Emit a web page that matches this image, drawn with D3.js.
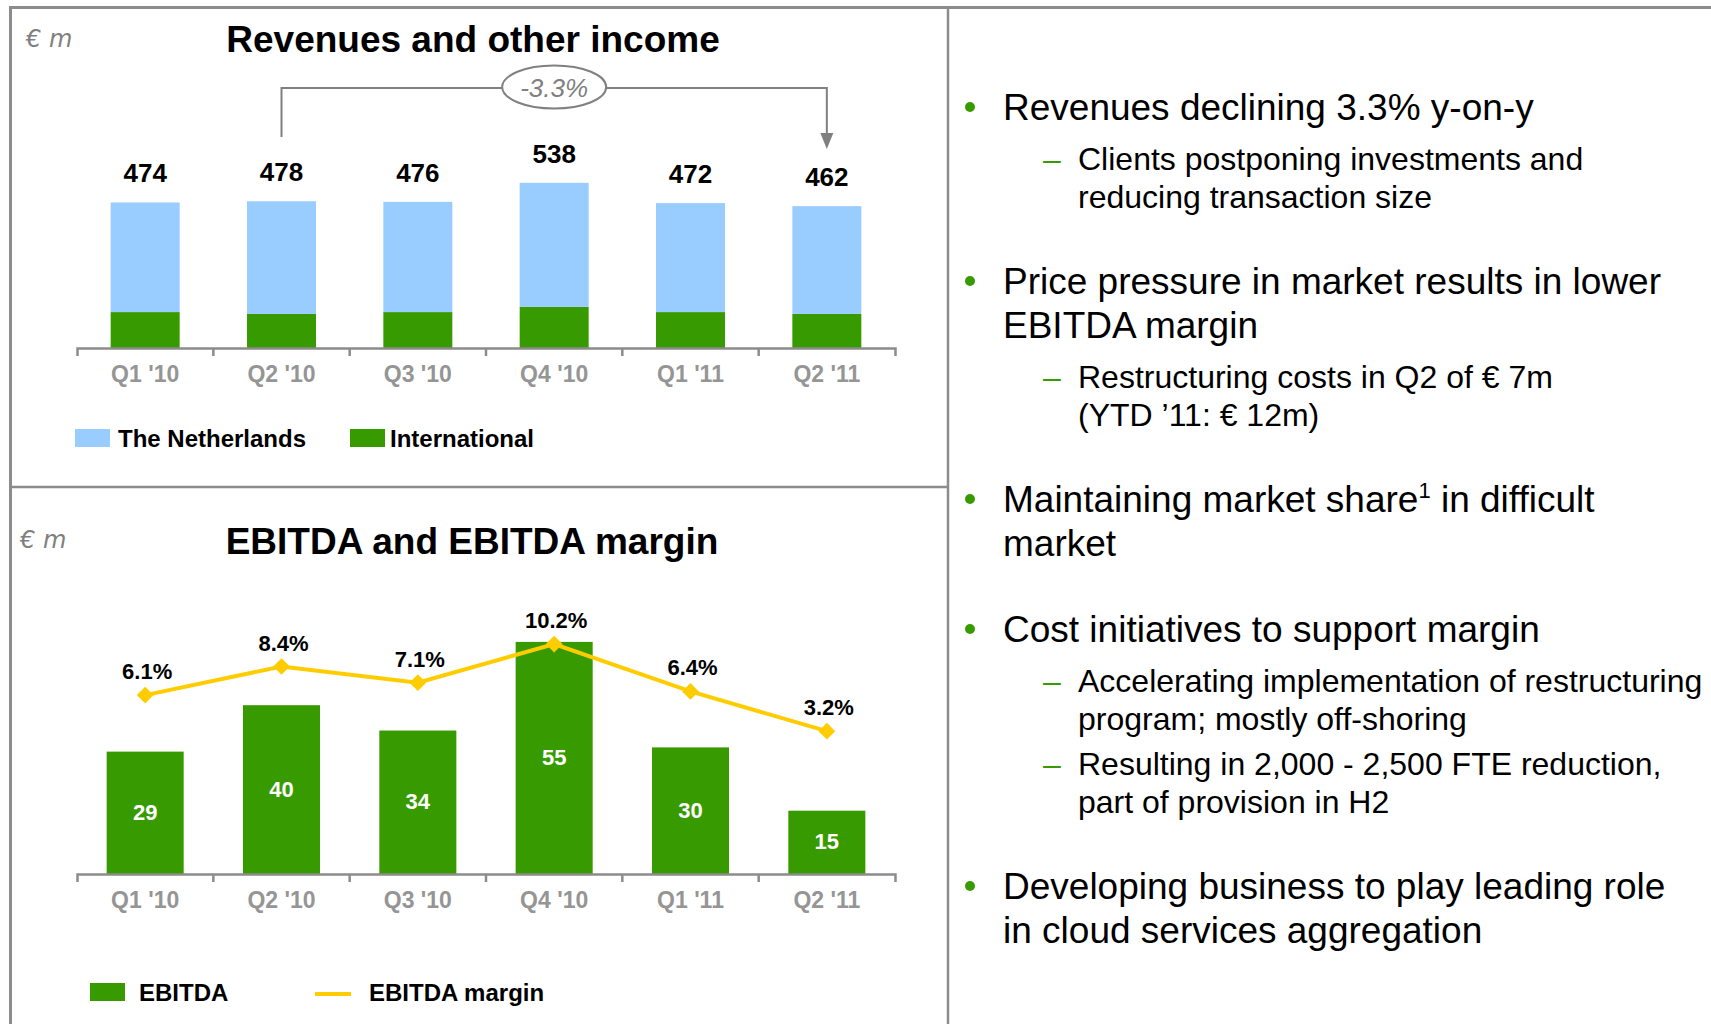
<!DOCTYPE html>
<html>
<head>
<meta charset="utf-8">
<style>
body { margin: 0; background: #ffffff; }
#thevis { display: block; font-family: "Liberation Sans", Arial, sans-serif; }
.frame { stroke: #8c8c8c; fill: none; }
.axis path, .axis line { stroke: #8c8c8c; stroke-width: 2.5px; }
.axis text { fill: #959595; font-weight: bold; font-size: 23px; font-family: "Liberation Sans", Arial, sans-serif; }
.unit { fill: #808080; font-family: "DejaVu Sans", sans-serif; font-style: italic; font-size: 24px; }
.title { font-weight: bold; font-size: 37px; fill: #000; }
.legend text { font-weight: bold; font-size: 24px; fill: #000; }
</style>
</head>
<body>
<svg id="thevis" width="1711" height="1024"></svg>
<script src="https://d3js.org/d3.v7.min.js"></script>
<script>

// chart data
var quarters = ["Q1 '10", "Q2 '10", "Q3 '10", "Q4 '10", "Q1 '11", "Q2 '11"];
var netherlands = [357, 367, 359, 404, 355, 351];
var international = [117, 111, 117, 134, 117, 111];
var ebitda = [29, 40, 34, 55, 30, 15];
var ebitdaMargin = [6.1, 8.4, 7.1, 10.2, 6.4, 3.2];
var revenueChange = "-3.3%";

var seriesKeys = ["international", "netherlands"];
var seriesNames = { netherlands: "The Netherlands", international: "International" };
var green = "#379b00", blue = "#99ccff", yellow = "#ffcc00";

// bullet text on the right
var bullets = [
	{ main: ["Revenues declining 3.3% y-on-y"],
	  subs: [["Clients postponing investments and", "reducing transaction size"]] },
	{ main: ["Price pressure in market results in lower", "EBITDA margin"],
	  subs: [["Restructuring costs in Q2 of \u20ac 7m", "(YTD \u201911: \u20ac 12m)"]] },
	{ main: ["Maintaining market share\u00b9 in difficult", "market"], subs: [] },
	{ main: ["Cost initiatives to support margin"],
	  subs: [["Accelerating implementation of restructuring", "program; mostly off-shoring"],
	         ["Resulting in 2,000 - 2,500 FTE reduction,", "part of provision in H2"]] },
	{ main: ["Developing business to play leading role", "in cloud services aggregation"], subs: [] }
];

var svg = d3.select("#thevis");

// frame lines
svg.append("line").attr("class", "frame").attr("x1", 9).attr("x2", 1711).attr("y1", 7.5).attr("y2", 7.5).attr("stroke-width", 3);
svg.append("line").attr("class", "frame").attr("x1", 10.5).attr("x2", 10.5).attr("y1", 6).attr("y2", 1024).attr("stroke-width", 3);
svg.append("line").attr("class", "frame").attr("x1", 948).attr("x2", 948).attr("y1", 6).attr("y2", 1024).attr("stroke-width", 2.5);
svg.append("line").attr("class", "frame").attr("x1", 10).attr("x2", 948).attr("y1", 487).attr("y2", 487).attr("stroke-width", 2.5);

function drawAxis(x, y0) {
	var ax = svg.append("g")
		.attr("class", "axis")
		.attr("transform", "translate(0," + y0 + ")")
		.call(d3.axisBottom(x).tickSizeInner(0).tickSizeOuter(8).tickPadding(18));
	// ticks sit between the categories
	ax.selectAll(".sep")
		.data(d3.range(1, quarters.length))
		.enter().append("line")
		.attr("class", "sep")
		.attr("x1", function(i) { return x.range()[0] + i * x.step(); })
		.attr("x2", function(i) { return x.range()[0] + i * x.step(); })
		.attr("y1", 0)
		.attr("y2", 8);
}

/* ---------- top: revenues ---------- */

var revBase = 348;
var xRev = d3.scaleBand()
	.domain(quarters)
	.range([77, 895])
	.paddingInner(0.494)
	.paddingOuter(0.247);

var yRev = d3.scaleLinear()
	.domain([0, 600])
	.range([revBase, revBase - 600 * 0.307]);

var revRows = quarters.map(function(q, i) {
	return { quarter: q, netherlands: netherlands[i], international: international[i] };
});

svg.append("text").attr("class", "unit").attr("x", 26).attr("y", 47).text("\u20ac m");
svg.append("text").attr("class", "title").attr("x", 473).attr("y", 52).attr("text-anchor", "middle")
	.text("Revenues and other income");

svg.append("g")
	.selectAll("g")
	.data(d3.stack().keys(seriesKeys)(revRows))
	.enter().append("g")
		.attr("fill", function(d) { return d.key == "netherlands" ? blue : green; })
	.selectAll("rect")
	.data(function(d) { return d; })
	.enter().append("rect")
		.attr("x", function(d) { return xRev(d.data.quarter); })
		.attr("y", function(d) { return yRev(d[1]); })
		.attr("height", function(d) { return yRev(d[0]) - yRev(d[1]); })
		.attr("width", xRev.bandwidth());

svg.append("g")
	.selectAll("text")
	.data(revRows)
	.enter().append("text")
		.attr("x", function(d) { return xRev(d.quarter) + xRev.bandwidth() / 2; })
		.attr("y", function(d) { return yRev(d.netherlands + d.international) - 20; })
		.attr("text-anchor", "middle")
		.attr("font-weight", "bold")
		.attr("font-size", "26px")
		.text(function(d) { return d.netherlands + d.international; });

drawAxis(xRev, revBase);

// year-on-year bracket
var bx1 = xRev(quarters[1]) + xRev.bandwidth() / 2,
	bx2 = xRev(quarters[5]) + xRev.bandwidth() / 2;
svg.append("path")
	.attr("d", "M" + bx1 + ",137V88H" + bx2 + "V136")
	.attr("fill", "none").attr("stroke", "#808080").attr("stroke-width", 2);
svg.append("path")
	.attr("d", "M" + (bx2 - 6.5) + ",133L" + (bx2 + 6.5) + ",133L" + bx2 + ",149Z")
	.attr("fill", "#808080");
svg.append("ellipse")
	.attr("cx", (bx1 + bx2) / 2).attr("cy", 87).attr("rx", 52).attr("ry", 21.5)
	.attr("fill", "#fff").attr("stroke", "#808080").attr("stroke-width", 2);
svg.append("text")
	.attr("x", (bx1 + bx2) / 2).attr("y", 97)
	.attr("text-anchor", "middle").attr("font-style", "italic").attr("font-size", "26px")
	.attr("fill", "#808080")
	.text(revenueChange);

var legTop = svg.append("g").attr("class", "legend");
[["netherlands", 75, 43], ["international", 350, 40]].forEach(function(k) {
	legTop.append("rect").attr("x", k[1]).attr("y", 429).attr("width", 35).attr("height", 18)
		.attr("fill", k[0] == "netherlands" ? blue : green);
	legTop.append("text").attr("x", k[1] + k[2]).attr("y", 447).text(seriesNames[k[0]]);
});

/* ---------- bottom: EBITDA ---------- */

var ebBase = 874;
var xEb = d3.scaleBand()
	.domain(quarters)
	.range([77, 895])
	.paddingInner(0.435)
	.paddingOuter(0.2175);

var yEb = d3.scaleLinear()
	.domain([0, 60])
	.range([ebBase, ebBase - 60 * 4.22]);

var yMargin = d3.scaleLinear()
	.domain([0, 12])
	.range([771, 771 - 12 * 12.44]);

svg.append("text").attr("class", "unit").attr("x", 20).attr("y", 548).text("\u20ac m");
svg.append("text").attr("class", "title").attr("x", 472).attr("y", 554).attr("text-anchor", "middle")
	.text("EBITDA and EBITDA margin");

svg.append("g")
	.attr("fill", green)
	.selectAll("rect")
	.data(ebitda)
	.enter().append("rect")
		.attr("x", function(d, i) { return xEb(quarters[i]); })
		.attr("y", function(d) { return yEb(d); })
		.attr("height", function(d) { return yEb(0) - yEb(d); })
		.attr("width", xEb.bandwidth());

svg.append("g")
	.selectAll("text")
	.data(ebitda)
	.enter().append("text")
		.attr("x", function(d, i) { return xEb(quarters[i]) + xEb.bandwidth() / 2; })
		.attr("y", function(d) { return (yEb(d) + yEb(0)) / 2 + 7; })
		.attr("text-anchor", "middle")
		.attr("font-weight", "bold")
		.attr("font-size", "22px")
		.attr("fill", "#fff")
		.text(function(d) { return d; });

drawAxis(xEb, ebBase);

var cx = function(i) { return xEb(quarters[i]) + xEb.bandwidth() / 2; };

svg.append("path")
	.datum(ebitdaMargin)
	.attr("fill", "none")
	.attr("stroke", yellow)
	.attr("stroke-width", 4)
	.attr("d", d3.line()
		.x(function(d, i) { return cx(i); })
		.y(function(d) { return yMargin(d); }));

svg.append("g")
	.selectAll("path")
	.data(ebitdaMargin)
	.enter().append("path")
		.attr("d", d3.symbol().type(d3.symbolSquare).size(140))
		.attr("fill", yellow)
		.attr("transform", function(d, i) { return "translate(" + cx(i) + "," + yMargin(d) + ") rotate(45)"; });

svg.append("g")
	.selectAll("text")
	.data(ebitdaMargin)
	.enter().append("text")
		.attr("x", function(d, i) { return cx(i) + 2; })
		.attr("y", function(d) { return yMargin(d) - 16; })
		.attr("text-anchor", "middle")
		.attr("font-weight", "bold")
		.attr("font-size", "22px")
		.text(function(d) { return d.toFixed(1) + "%"; });

var legBot = svg.append("g").attr("class", "legend");
legBot.append("rect").attr("x", 90).attr("y", 983).attr("width", 35).attr("height", 18).attr("fill", green);
legBot.append("text").attr("x", 139).attr("y", 1001).text("EBITDA");
legBot.append("line").attr("x1", 315).attr("x2", 351).attr("y1", 994).attr("y2", 994)
	.attr("stroke", yellow).attr("stroke-width", 4);
legBot.append("text").attr("x", 369).attr("y", 1001).text("EBITDA margin");

/* ---------- right: commentary ---------- */

var bl = svg.append("g").attr("class", "bullets");
var yy = 120;
bullets.forEach(function(b, bi) {
	if (bi > 0) yy += 86;
	b.main.forEach(function(line, li) {
		if (li > 0) yy += 44;
		if (li == 0) bl.append("circle").attr("cx", 970).attr("cy", yy - 13).attr("r", 5).attr("fill", green);
		var t = bl.append("text").attr("x", 1003).attr("y", yy).attr("font-size", "37px").attr("fill", "#000");
		var parts = line.split("\u00b9");
		t.append("tspan").text(parts[0]);
		if (parts.length > 1) {
			t.append("tspan").attr("font-size", "22px").attr("dy", -14).text("1");
			t.append("tspan").attr("dy", 14).text(parts[1]);
		}
	});
	b.subs.forEach(function(sub, si) {
		yy += si == 0 ? 50 : 45;
		sub.forEach(function(line, li) {
			if (li > 0) yy += 38;
			if (li == 0) bl.append("text").attr("x", 1043).attr("y", yy).attr("font-size", "32px")
				.attr("fill", green).text("\u2013");
			bl.append("text").attr("x", 1078).attr("y", yy).attr("font-size", "32px").attr("fill", "#000").text(line);
		});
	});
});

</script>
</body>
</html>
